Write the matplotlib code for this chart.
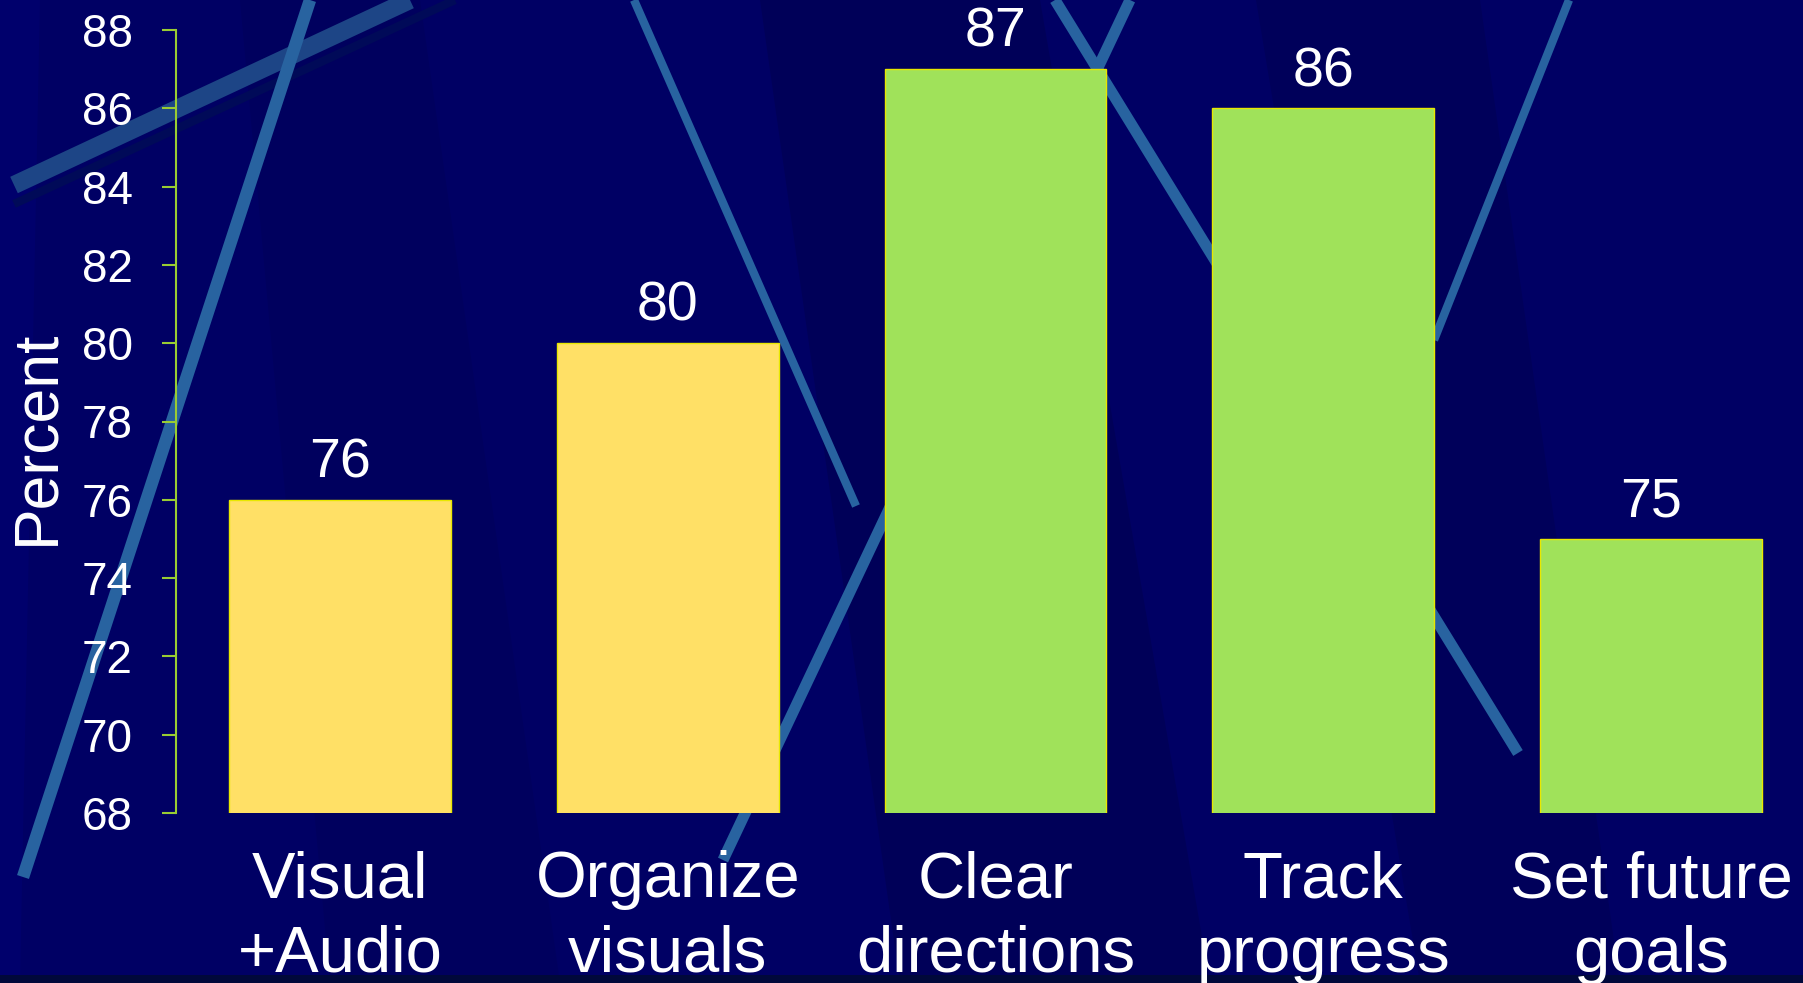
import matplotlib
matplotlib.use("Agg")
import matplotlib.pyplot as plt
from matplotlib.lines import Line2D
from matplotlib.patches import Polygon, Rectangle

plt.rcParams['font.family'] = ['Liberation Sans', 'DejaVu Sans']

# data
categories = ['Visual\n+Audio', 'Organize\nvisuals', 'Clear\ndirections',
              'Track\nprogress', 'Set future\ngoals']
values = [76, 80, 87, 86, 75]
bar_colors = ['#FFE066', '#FFE066', '#A0E25A', '#A0E25A', '#A0E25A']
yticks = list(range(68, 89, 2))

W, H = 1803, 983
fig = plt.figure(figsize=(W / 100, H / 100), dpi=100, facecolor='#000064')


def px(x, y):
    # reference pixel (from top-left) -> figure fraction
    return x / W, 1 - y / H


# background slide decoration
for pts, col in [
    ([(760, 0), (1040, 0), (1210, 983), (900, 983)], '#000058'),
    ([(1256, 0), (1480, 0), (1620, 983), (1420, 983)], '#00005a'),
    ([(240, 0), (420, 0), (560, 983), (330, 983)], '#00005e'),
    ([(0, 0), (40, 0), (20, 983), (0, 983)], '#00006c'),
]:
    fig.add_artist(Polygon([px(*p) for p in pts], closed=True, transform=fig.transFigure,
                           facecolor=col, edgecolor='none', zorder=-3))
fig.add_artist(Rectangle((0, 0), 1, 8 / H, transform=fig.transFigure,
                         facecolor='#00083a', edgecolor='none', zorder=-3))

deco = [
    ((14, 185), (410, 0), '#1d4586', 13),
    ((14, 204), (455, 0), '#000a58', 6),
    ((310, 0), (23, 877), '#2863a0', 9),
    ((634, 0), (856, 506), '#2863a0', 6),
    ((1055, 0), (1518, 753), '#2863a0', 8),
    ((1130, 0), (723, 860), '#2863a0', 8),
    ((1569, 0), (1434, 340), '#2863a0', 6),
]
for (x0, y0), (x1, y1), col, lw in deco:
    a, b = px(x0, y0), px(x1, y1)
    fig.add_artist(Line2D([a[0], b[0]], [a[1], b[1]], transform=fig.transFigure,
                          color=col, lw=lw, solid_capstyle='butt', zorder=-2))

ax = fig.add_axes([176 / W, 1 - 813 / H, (1815 - 176) / W, 783 / H])
ax.set_facecolor('none')

x = range(len(values))
bars = ax.bar(x, values, width=0.677, bottom=0, color=bar_colors,
              edgecolor='#E8E800', linewidth=1.0)
ax.set_ylim(68, 88)
ax.set_xlim(-0.5, 4.5)
ax.set_yticks(yticks)
ax.set_xticks(list(x))
ax.set_xticklabels(categories, fontsize=47, color='white', linespacing=1.3)

for xi, v in zip(x, values):
    ax.annotate(str(v), (xi, v), xytext=(0, 16), textcoords='offset points',
                ha='center', va='baseline', fontsize=40, color='white')

for s in ['top', 'right', 'bottom']:
    ax.spines[s].set_visible(False)
ax.spines['left'].set_color('#99CC33')
ax.spines['left'].set_linewidth(1.5)
ax.tick_params(axis='y', colors='#99CC33', labelcolor='white', labelsize=33,
               length=10, width=1.5, pad=21)
ax.tick_params(axis='x', length=0, pad=27)

ax.set_ylabel('Percent', fontsize=45, color='white')
ax.yaxis.set_label_coords(-0.067, 0.48)

fig.savefig('out.png', dpi=100, facecolor=fig.get_facecolor())
